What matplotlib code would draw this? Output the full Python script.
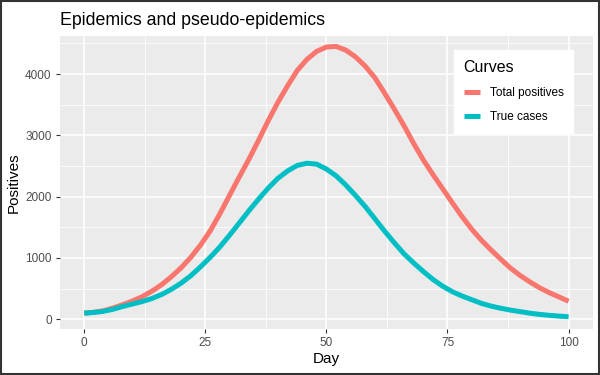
import matplotlib.pyplot as plt
from matplotlib.patches import Rectangle

# Day grid (every 2 days) and curve values
days = list(range(0, 101, 2))
total_positives = [100, 115, 140, 185, 240, 300, 370, 460, 565, 695,
                   840, 1010, 1210, 1440, 1720, 2020, 2320, 2610, 2920, 3240,
                   3540, 3810, 4060, 4240, 4370, 4440, 4450, 4390, 4280, 4130,
                   3940, 3690, 3430, 3160, 2870, 2600, 2360, 2130, 1900, 1675,
                   1470, 1290, 1130, 980, 835, 715, 610, 515, 435, 365, 295]
true_cases = [100, 112, 130, 165, 210, 250, 290, 340, 405, 490,
              590, 710, 855, 1010, 1180, 1370, 1570, 1770, 1960, 2140,
              2300, 2420, 2510, 2545, 2530, 2450, 2340, 2190, 2020, 1840,
              1640, 1440, 1250, 1070, 920, 780, 650, 540, 450, 380,
              320, 260, 215, 180, 150, 125, 100, 80, 65, 52, 42]

x_ticks = [0, 25, 50, 75, 100]
y_ticks = [0, 1000, 2000, 3000, 4000]

plt.rcParams['font.family'] = ['Liberation Sans', 'DejaVu Sans']

fig = plt.figure(figsize=(6, 3.75), dpi=100, facecolor='white')
ax = fig.add_axes([0.1, 0.1227, 0.888, 0.7813])
ax.set_facecolor('#EBEBEB')

ax.plot(days, total_positives, color='#F8766D', lw=3.6,
        solid_capstyle='butt', solid_joinstyle='round',
        label='Total positives', zorder=3)
ax.plot(days, true_cases, color='#00BFC4', lw=3.6,
        solid_capstyle='butt', solid_joinstyle='round',
        label='True cases', zorder=3)

ax.set_xlim(-5, 105)
ax.set_ylim(-158, 4620)
ax.set_xticks(x_ticks)
ax.set_yticks(y_ticks)
ax.set_xticks([12.5, 37.5, 62.5, 87.5], minor=True)
ax.set_yticks([500, 1500, 2500, 3500, 4500], minor=True)
ax.grid(which='major', color='white', lw=1.1)
ax.grid(which='minor', color='white', lw=0.55)
ax.set_axisbelow(True)
for s in ax.spines.values():
    s.set_visible(False)
ax.tick_params(which='major', length=3, width=0.8, color='#333333',
               labelcolor='#4D4D4D', labelsize=8.5, pad=3)
ax.tick_params(which='minor', length=0)

ax.set_xlabel('Day', fontsize=11, color='black', labelpad=2)
ax.set_ylabel('Positives', fontsize=11, color='black', labelpad=3)
ax.set_title('Epidemics and pseudo-epidemics', fontsize=12.8, loc='left',
             x=0.0, pad=8, color='black')

leg = ax.legend(title='Curves', loc='upper right',
                bbox_to_anchor=(0.9625, 0.952), borderaxespad=0,
                frameon=True, fontsize=8.5,
                title_fontsize=11.5, handlelength=1.4, handletextpad=0.8,
                labelspacing=1.05, borderpad=0.8, fancybox=False)
leg.get_frame().set_edgecolor('white')
leg.get_frame().set_facecolor('white')
leg.get_frame().set_alpha(1)
leg._legend_box.align = 'left'

# screenshot-style dark frame
fig.patches.append(Rectangle((0.002, 0.003), 0.996, 0.994, transform=fig.transFigure,
                             fill=False, edgecolor='#333333', lw=1.5))

fig.savefig('out.png', dpi=100, facecolor='white')
plt.close(fig)
